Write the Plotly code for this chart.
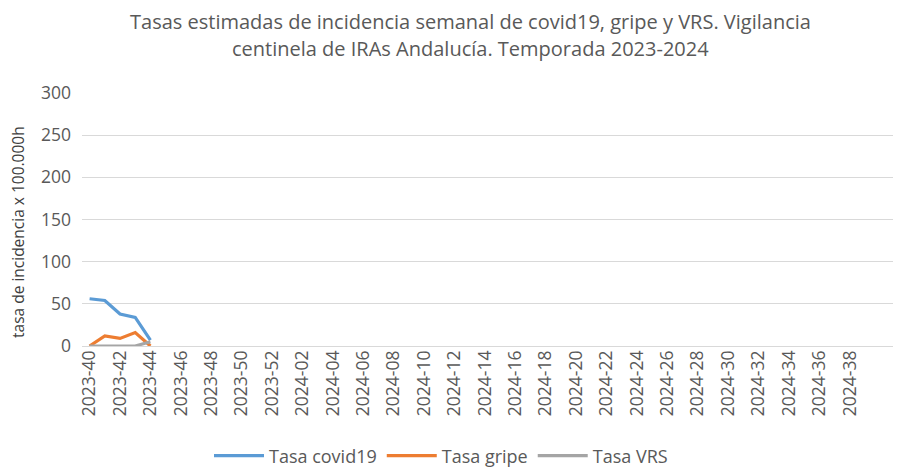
import plotly.graph_objects as go

weeks_2023 = [f"2023-{w}" for w in range(40, 53)]
weeks_2024 = [f"2024-{w:02d}" for w in range(1, 40)]
categories = weeks_2023 + weeks_2024

covid = [56, 54, 38, 34, 7]
gripe = [0, 12, 9, 16, 0]
vrs = [0, 0, 0, 0, 5]

tick_labels = categories[::2]

title_line1 = "Tasas estimadas de incidencia semanal de covid19, gripe y VRS. Vigilancia"
title_line2 = "centinela de IRAs Andalucía. Temporada 2023-2024"
y_title = "tasa de incidencia x 100.000h"

FONT = "Open Sans"
GREY = "#595959"

# the page body has an 8px margin; work in page pixels and compensate
OFF = 8
W, H = 901 - OFF, 470 - OFF
PL, PR, PT, PB = 82, 900, 93, 346  # plot area in page pixels
ML, MR, MT, MB = PL - OFF, (W + OFF) - PR, PT - OFF, (H + OFF) - PB
plot_w = PR - PL
plot_h = PB - PT


def px_x(x):
    return (x - PL) / plot_w


def px_y(y):
    return (PB - y) / plot_h


fig = go.Figure()
fig.add_trace(go.Scatter(x=categories[:len(covid)], y=covid, mode="lines", name="Tasa covid19",
                         line=dict(color="#5B9BD5", width=3.2)))
fig.add_trace(go.Scatter(x=categories[:len(gripe)], y=gripe, mode="lines", name="Tasa gripe",
                         line=dict(color="#ED7D31", width=3.2)))
fig.add_trace(go.Scatter(x=categories[:len(vrs)], y=vrs, mode="lines", name="Tasa VRS",
                         line=dict(color="#A5A5A5", width=3.2)))

anns = [
    dict(text=title_line1, x=px_x(470), y=px_y(21), xref="paper", yref="paper", showarrow=False,
         xanchor="center", yanchor="middle", borderpad=0,
         font=dict(size=20, color=GREY, family=FONT)),
    dict(text=title_line2, x=px_x(470), y=px_y(49), xref="paper", yref="paper", showarrow=False,
         xanchor="center", yanchor="middle", borderpad=0,
         font=dict(size=20, color=GREY, family=FONT)),
    dict(text=y_title, x=px_x(18), y=px_y(232), xref="paper", yref="paper", showarrow=False,
         textangle=-90, xanchor="center", yanchor="middle",
         font=dict(size=15.5, color="#404040", family=FONT)),
]

fig.update_layout(
    width=W, height=H,
    margin=dict(l=ML, r=MR, t=MT, b=MB, autoexpand=False),
    paper_bgcolor="white", plot_bgcolor="white",
    font=dict(family=FONT, color=GREY),
    showlegend=True,
    legend=dict(orientation="h", x=px_x(441), xanchor="center", y=px_y(456),
                yanchor="middle", itemwidth=50, font=dict(size=18, color=GREY),
                traceorder="normal"),
    annotations=anns,
)

fig.update_xaxes(type="category", categoryorder="array", categoryarray=categories,
                 range=[-0.5, 53.3], tickmode="array", tickvals=tick_labels, ticktext=tick_labels,
                 tickangle=-90, tickfont=dict(size=17.5, color=GREY, family=FONT),
                 showgrid=False, showline=False, zeroline=False, ticks="", automargin=False)
fig.update_yaxes(range=[0, 300], dtick=50, tickfont=dict(size=17.5, color=GREY, family=FONT),
                 showgrid=True, gridcolor="#D9D9D9", gridwidth=1, zeroline=True,
                 zerolinecolor="#D9D9D9", zerolinewidth=1, ticks="", ticklen=0,
                 ticklabelstandoff=10, showline=False, automargin=False)

fig.write_html("out.html")
